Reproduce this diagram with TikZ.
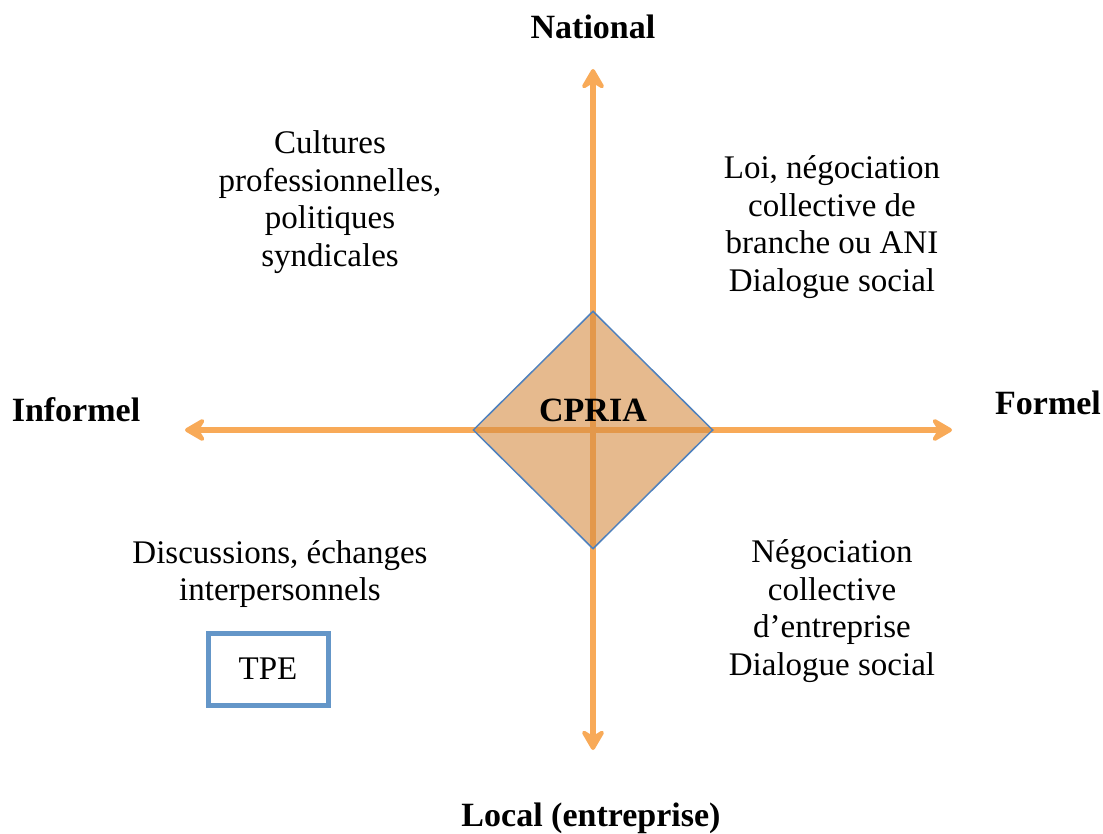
\documentclass[tikz,border=0pt]{standalone}
\usepackage{fontspec}
\setmainfont{Liberation Serif}
\usetikzlibrary{arrows.meta,positioning,shapes.geometric}
\definecolor{axisorange}{RGB}{248,170,88}
\definecolor{cpriafill}{RGB}{213,140,67}
\definecolor{edgeblue}{RGB}{79,129,189}
\definecolor{tpeblue}{RGB}{100,150,200}

\begin{document}
\begin{tikzpicture}[x=1pt,y=-1pt,
    >={Stealth[length=25pt,width=29pt,inset=9pt,round]},
    axis/.style={draw=axisorange, line width=5.5pt, <->},
    pole/.style={font=\fontsize{34}{40}\selectfont\bfseries, inner sep=0pt},
    zone/.style={font=\fontsize{33}{37.5}\selectfont, align=center, inner sep=0pt}]
  \useasboundingbox (0,0) rectangle (1103,834);
  % axes
  \coordinate (nord) at (593,69);
  \coordinate (sud) at (593,750);
  \coordinate (ouest) at (185,430);
  \coordinate (est) at (952,430);
  \draw[axis] (sud) -- (nord);
  \draw[axis] (ouest) -- (est);
  \node[pole] (national) at (593,27) {National};
  \node[pole] (local) at (591,818) {Local (entreprise)};
  \node[pole] (informel) at (76,410) {Informel};
  \node[pole] (formel) at (1048,403) {Formel};
  % centre
  \node[diamond, draw=edgeblue, line width=1.5pt, fill=cpriafill, fill opacity=0.6,
    minimum width=240pt, minimum height=238pt, inner sep=0pt] (cpria) at (593,430) {};
  \node[pole] (cprialabel) at (593,410) {CPRIA};
  % quadrants
  \node[zone] (cultures) at (330,202) {Cultures\\professionnelles,\\politiques\\syndicales};
  \node[zone] (loi) at (832,227) {Loi, négociation\\collective de\\branche ou ANI\\Dialogue social};
  \node[zone] (discussions) at (280,574) {Discussions, échanges\\interpersonnels};
  \node[zone] (negociation) at (832,611) {Négociation\\collective\\d’entreprise\\Dialogue social};
  \node[draw=tpeblue, line width=5pt, minimum width=120pt, minimum height=72pt,
    inner sep=0pt, font=\fontsize{33}{36}\selectfont] (tpe) at (268,669) {TPE};
\end{tikzpicture}
\end{document}
